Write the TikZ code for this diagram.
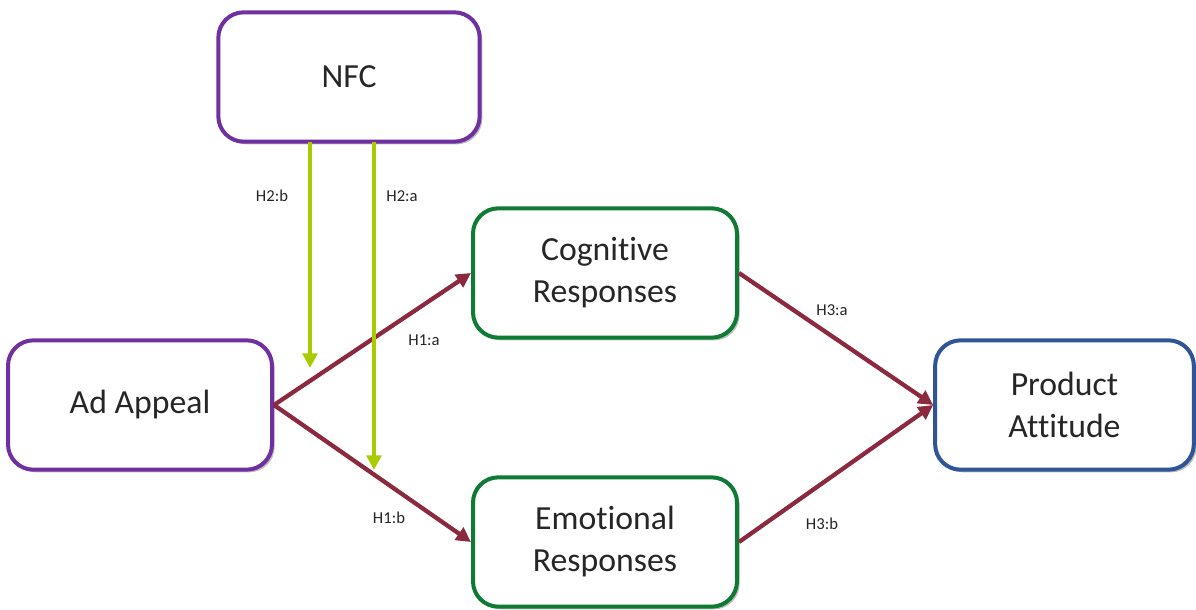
\documentclass[tikz,border=0pt]{standalone}
\usepackage{fontspec}
\setmainfont{Carlito}[Ligatures={NoCommon}]
\usetikzlibrary{arrows.meta,shadows}
\definecolor{boxpurple}{HTML}{7030A0}
\definecolor{boxgreen}{HTML}{0E7A34}
\definecolor{boxblue}{HTML}{2F5597}
\definecolor{arrred}{HTML}{8B2A3E}
\definecolor{arrlime}{HTML}{A8CC00}
\tikzset{
  box/.style={draw, line width=3pt, rounded corners=19pt, fill=white,
    minimum width=196pt, minimum height=97pt, align=center,
    font=\fontsize{25.3}{31.5}\selectfont, text=black!85,
    drop shadow={shadow xshift=2pt, shadow yshift=-2pt, opacity=0.25, fill=black}},
  redarrow/.style={draw=arrred, line width=3.2pt, -{Triangle[length=11pt,width=11pt]}},
  limearrow/.style={draw=arrlime, line width=3.2pt, -{Triangle[length=11pt,width=11pt]}},
  lab/.style={font=\fontsize{12.5}{15}\selectfont, text=black!85}
}
\begin{document}
\begin{tikzpicture}[x=0.75pt,y=-0.75pt]
\useasboundingbox (0,0) rectangle (1196,610);
\node[box, draw=boxpurple, minimum width=196pt] (nfc) at (349,77) {NFC};
\node[box, draw=boxpurple, minimum width=198pt] (ad) at (140,405) {Ad Appeal};
\node[box, draw=boxgreen, minimum width=198pt] (cog) at (605,273) {Cognitive\\Responses};
\node[box, draw=boxgreen, minimum width=198pt] (emo) at (605,542) {Emotional\\Responses};
\node[box, draw=boxblue, minimum width=194pt] (prod) at (1064.5,405) {Product\\Attitude};
\coordinate (b1) at (310,142);
\coordinate (b2) at (374,142);
\coordinate (e1) at (310,368);
\coordinate (e2) at (374,470);
\draw[redarrow] (ad.east) -- (cog.west);
\draw[redarrow] (ad.east) -- (emo.west);
\draw[redarrow] (cog.east) -- (prod.west);
\draw[redarrow] (emo.east) -- (prod.west);
\draw[limearrow] (b1) -- (e1);
\draw[limearrow] (b2) -- (e2);
\node[lab] (l2b) at (272,196) {H2:b};
\node[lab] (l2a) at (402,196) {H2:a};
\node[lab] (l1a) at (424,340) {H1:a};
\node[lab] (l1b) at (389,518) {H1:b};
\node[lab] (l3a) at (832,310) {H3:a};
\node[lab] (l3b) at (822,524) {H3:b};
\end{tikzpicture}
\end{document}
